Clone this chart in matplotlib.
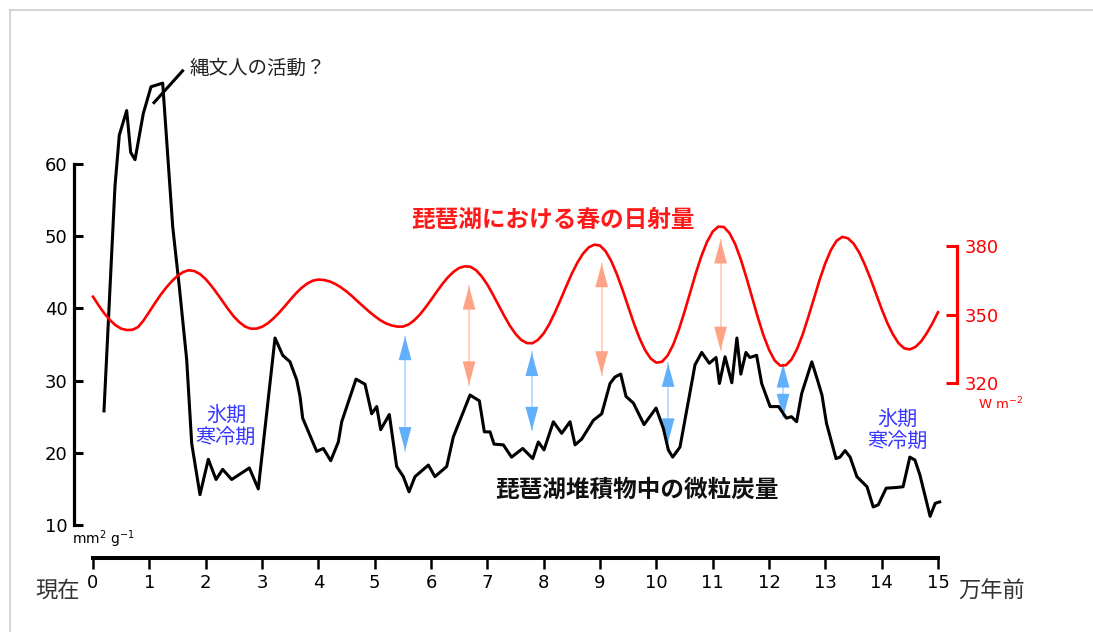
import matplotlib
matplotlib.use("Agg")
import matplotlib.pyplot as plt
from matplotlib.patches import FancyArrowPatch
from matplotlib.lines import Line2D

# Micro-charcoal in Lake Biwa sediments (mm^2 g^-1) vs age (x10,000 years ago)
charcoal_age = [0.195, 0.39, 0.467, 0.598, 0.669, 0.746, 0.893, 1.03, 1.237, 1.415,
                1.532, 1.663, 1.752, 1.899, 2.047, 2.184, 2.302, 2.462, 2.775, 2.934,
                3.231, 3.368, 3.497, 3.616, 3.675, 3.722, 3.971, 4.089, 4.22, 4.355,
                4.415, 4.669, 4.829, 4.947, 5.036, 5.107, 5.26, 5.391, 5.509, 5.61,
                5.716, 5.953, 6.07, 6.279, 6.396, 6.693, 6.858, 6.947, 7.048, 7.119,
                7.284, 7.43, 7.628, 7.806, 7.905, 8.006, 8.172, 8.32, 8.468, 8.557,
                8.675, 8.882, 9.03, 9.178, 9.267, 9.368, 9.462, 9.592, 9.782, 9.995,
                10.124, 10.213, 10.29, 10.42, 10.687, 10.806, 10.94, 11.06, 11.12, 11.22,
                11.34, 11.43, 11.50, 11.59, 11.66, 11.78, 11.87, 12.02, 12.17, 12.31,
                12.40, 12.49, 12.58, 12.76, 12.86, 12.94, 13.02, 13.19, 13.26, 13.35,
                13.44, 13.56, 13.74, 13.85, 13.94, 14.08, 14.27, 14.38, 14.50, 14.59,
                14.68, 14.86, 14.95, 15.03]
charcoal_val = [25.8, 56.9, 64.0, 67.4, 61.6, 60.6, 67.0, 70.7, 71.2, 51.3,
                43.0, 32.9, 21.3, 14.2, 19.1, 16.3, 17.7, 16.3, 17.9, 15.0,
                35.9, 33.5, 32.6, 30.1, 27.8, 24.8, 20.2, 20.6, 18.9, 21.5,
                24.3, 30.2, 29.5, 25.4, 26.4, 23.2, 25.3, 18.1, 16.7, 14.6,
                16.7, 18.3, 16.7, 18.1, 22.2, 28.0, 27.2, 22.9, 22.9, 21.2,
                21.1, 19.4, 20.6, 19.2, 21.5, 20.4, 24.3, 22.7, 24.3, 21.1,
                21.9, 24.5, 25.4, 29.6, 30.5, 30.9, 27.8, 26.9, 23.9, 26.2,
                23.4, 20.4, 19.4, 20.8, 32.2, 33.9, 32.4, 33.2, 29.6, 33.3,
                29.7, 35.9, 30.9, 33.9, 33.2, 33.5, 29.6, 26.4, 26.4, 24.8,
                25.0, 24.3, 28.2, 32.6, 30.1, 28.0, 24.1, 19.2, 19.4, 20.3,
                19.4, 16.7, 15.3, 12.5, 12.8, 15.1, 15.2, 15.3, 19.4, 19.0,
                16.9, 11.2, 13.0, 13.2]

# Spring insolation at Lake Biwa (W m^-2), every 1,000 years from 0 to 150,000
insol_age = [k / 10 for k in range(151)]
insol_val = [357.8, 354.0, 350.5, 347.6, 345.3, 343.8, 343.2, 343.3, 344.5, 347.5,
             351.2, 355.0, 358.6, 361.8, 364.6, 366.9, 368.6, 369.4, 369.0, 367.7,
             365.5, 362.6, 359.3, 355.8, 352.3, 349.1, 346.6, 344.7, 343.8, 343.8,
             344.6, 346.1, 348.2, 350.7, 353.5, 356.4, 359.2, 361.6, 363.5, 364.8,
             365.3, 365.1, 364.5, 363.4, 361.9, 360.1, 358.0, 355.7, 353.5, 351.3,
             349.3, 347.5, 346.1, 345.2, 344.7, 344.7, 345.6, 347.4, 349.9, 353.0,
             356.4, 359.9, 363.3, 366.3, 368.7, 370.4, 371.1, 370.9, 369.4, 366.7,
             363.1, 358.7, 354.0, 349.4, 345.1, 341.5, 338.9, 337.5, 337.4, 338.9,
             341.7, 345.8, 350.9, 356.5, 362.3, 367.9, 372.8, 376.7, 379.4, 380.6,
             380.2, 377.7, 373.4, 367.6, 360.8, 353.5, 346.2, 339.7, 334.4, 330.7,
             328.9, 329.3, 332.0, 336.8, 343.4, 351.2, 359.6, 368.0, 375.6, 381.8,
             386.3, 388.5, 388.3, 385.6, 380.8, 374.1, 366.1, 357.5, 348.9, 341.0,
             334.6, 329.9, 327.6, 327.8, 330.3, 335.0, 341.4, 349.1, 357.2, 365.3,
             372.5, 378.3, 382.3, 384.0, 383.4, 381.1, 377.2, 371.9, 365.8, 359.1,
             352.4, 346.3, 341.3, 337.4, 335.2, 334.7, 335.8, 338.2, 341.8, 346.1,
             351.0]

x_ticks = list(range(0, 16))
left_ticks = [10, 20, 30, 40, 50, 60]
right_ticks = [320, 350, 380]

# Double arrows linking insolation highs / lows to the charcoal record
warm_arrow_x = [6.675, 9.03, 11.14]
warm_arrow_top = [43.1, 46.2, 49.5]
warm_arrow_bottom = [29.4, 30.8, 34.2]
cold_arrow_x = [5.54, 7.79, 10.21, 12.25]
cold_arrow_top = [36.1, 33.9, 32.4, 32.3]
cold_arrow_bottom = [20.3, 23.1, 21.5, 24.9]

# Leader line for the Jomon annotation
jomon_line_x = [1.083, 1.59]
jomon_line_y = [68.5, 72.9]

JP = ["Noto Sans CJK JP", "DejaVu Sans"]
plt.rcParams["font.family"] = ["DejaVu Sans", "Noto Sans CJK JP"]

W, H = 1093, 632
fig = plt.figure(figsize=(W / 100, H / 100), dpi=100)

# Layout in pixels: axes frame and data-to-pixel scaling
ax_left, ax_right, ax_bottom, ax_top = 74, 957, 558, 40
x0_px, x15_px = 93, 938
y10_px, y60_px = 525, 164
r320_px, r380_px = 383, 246
px_per_x = (x15_px - x0_px) / 15
px_per_y = (y10_px - y60_px) / 50
px_per_r = (r320_px - r380_px) / 60

ax = fig.add_axes([ax_left / W, 1 - ax_bottom / H,
                   (ax_right - ax_left) / W, (ax_bottom - ax_top) / H])
ax.set_xlim((ax_left - x0_px) / px_per_x, 15 + (ax_right - x15_px) / px_per_x)
ax.set_ylim(10 - (ax_bottom - y10_px) / px_per_y, 10 + (y10_px - ax_top) / px_per_y)

ax2 = ax.twinx()
ax2.set_ylim(320 - (ax_bottom - r320_px) / px_per_r, 380 + (r380_px - ax_top) / px_per_r)

for side in ["top", "right"]:
    ax.spines[side].set_visible(False)
for side in ["top", "left", "bottom"]:
    ax2.spines[side].set_visible(False)

ax.spines["left"].set_bounds(10, 60)
ax.spines["left"].set_linewidth(2.3)
ax.spines["bottom"].set_bounds(0, 15)
ax.spines["bottom"].set_linewidth(2.9)
ax.set_yticks(left_ticks)
ax.set_xticks(x_ticks)
ax.tick_params(axis="y", direction="in", length=6.5, width=2.2, pad=4.5,
               labelsize=13)
ax.tick_params(axis="x", direction="out", length=8, width=1.8, pad=3.5,
               labelsize=13)

ax2.spines["right"].set_bounds(320, 380)
ax2.spines["right"].set_linewidth(2.3)
ax2.spines["right"].set_color("#ff0000")
ax2.set_yticks(right_ticks)
ax2.tick_params(axis="y", direction="in", length=8, width=2.2, pad=5.5,
                labelsize=13, colors="#ff0000")

# Data curves
ax.plot(charcoal_age, charcoal_val, color="black", lw=2.2, zorder=3)
ax2.plot(insol_age, insol_val, color="#ff0000", lw=1.9, zorder=3)
ax.plot(jomon_line_x, jomon_line_y, color="black", lw=2.2, zorder=3)


def double_arrow(x, top, bottom, head, shaft):
    ax.plot([x, x], [bottom, top], color=shaft, lw=1.4, zorder=2)
    arrow = FancyArrowPatch((x, bottom), (x, top),
                            arrowstyle="<|-|>,head_length=17,head_width=4.6",
                            mutation_scale=1, shrinkA=0, shrinkB=0,
                            color=head, lw=0, zorder=2)
    ax.add_patch(arrow)


for x, t, b in zip(warm_arrow_x, warm_arrow_top, warm_arrow_bottom):
    double_arrow(x, t, b, "#ffa386", "#ffd2c2")
for x, t, b in zip(cold_arrow_x, cold_arrow_top, cold_arrow_bottom):
    double_arrow(x, t, b, "#62b0fb", "#bcdcff")

# Labels
fig.text(553 / W, 1 - 220 / H, "琵琶湖における春の日射量", color="#ff1a1a",
         fontsize=17, fontweight="bold", ha="center", va="center", family=JP)
fig.text(637 / W, 1 - 490 / H, "琵琶湖堆積物中の微粒炭量", color="#111111",
         fontsize=17, fontweight="bold", ha="center", va="center", family=JP)
fig.text(190 / W, 1 - 68 / H, "縄文人の活動？", color="#222222",
         fontsize=14, ha="left", va="center", family=JP)
for cx, cy in [(226, 427), (897, 431)]:
    fig.text(cx / W, 1 - cy / H, "氷期\n寒冷期", color="#3838ff", fontsize=14.5,
             ha="center", va="center", multialignment="center",
             linespacing=1.15, family=JP)
fig.text(80 / W, 1 - 590 / H, "現在", color="#333333", fontsize=16,
         ha="right", va="center", family=JP)
fig.text(958 / W, 1 - 590 / H, "万年前", color="#333333", fontsize=16,
         ha="left", va="center", family=JP)
fig.text(72 / W, 1 - 539 / H, r"mm$^2$ g$^{-1}$", fontsize=10,
         ha="left", va="center")
fig.text(978 / W, 1 - 404 / H, r"W m$^{-2}$", fontsize=9.5, color="#ff0000",
         ha="left", va="center")

# Thin frame along the top and left edges
fig.add_artist(Line2D([10 / W, 1], [1 - 10 / H, 1 - 10 / H],
                      transform=fig.transFigure, color="#cccccc", lw=1.2))
fig.add_artist(Line2D([10 / W, 10 / W], [0, 1 - 10 / H],
                      transform=fig.transFigure, color="#cccccc", lw=1.2))

fig.savefig("out.png", dpi=100)
